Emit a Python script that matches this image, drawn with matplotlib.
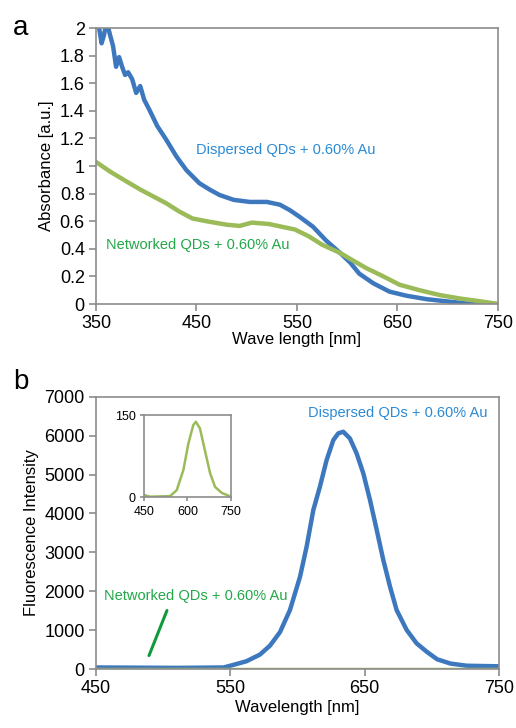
import matplotlib.pyplot as plt

plt.rcParams['font.family'] = ['Liberation Sans', 'DejaVu Sans']

# Panel a: absorbance spectra
abs_disp_nm = [352, 355.6, 358, 360.6, 364, 367, 370, 373, 376, 379, 382, 386, 390, 394, 398,
               403, 411, 420, 430, 440, 453, 463, 473, 487, 503, 520, 533, 543, 553, 566,
               579, 593, 603, 612, 626, 642, 659, 679, 702, 725, 750]
abs_disp = [2.05, 1.89, 1.95, 2.05, 1.95, 1.87, 1.72, 1.79, 1.72, 1.66, 1.68, 1.63, 1.53, 1.58, 1.48,
            1.41, 1.29, 1.19, 1.07, 0.97, 0.875, 0.83, 0.79, 0.755, 0.74, 0.74, 0.72, 0.68, 0.63, 0.56,
            0.46, 0.37, 0.30, 0.22, 0.15, 0.09, 0.06, 0.035, 0.017, 0.0, 0.0]
abs_net_nm = [350, 364, 380, 394, 407, 420, 433, 446, 460, 480, 493, 505, 522, 535, 548,
              562, 575, 593, 607, 619, 636, 652, 672, 692, 712, 735, 750]
abs_net = [1.03, 0.96, 0.89, 0.83, 0.78, 0.73, 0.67, 0.62, 0.60, 0.575, 0.566, 0.59, 0.58, 0.56, 0.54,
           0.49, 0.43, 0.37, 0.31, 0.26, 0.20, 0.14, 0.10, 0.065, 0.04, 0.017, 0.0]

# Panel b: fluorescence spectra
fl_disp_nm = [450, 480, 510, 545, 550, 562, 572, 579.5, 587, 594.4, 601.9, 606.8, 611.8, 616.7,
              621.7, 626.7, 630.4, 634.1, 639, 644, 649, 654, 659, 663.9, 668.9, 673.8, 681.3,
              688.7, 696.2, 704, 714, 726, 750]
fl_disp = [40, 35, 30, 40, 85, 200, 370, 600, 950, 1517, 2373, 3144, 4088, 4687,
           5373, 5887, 6060, 6100, 5930, 5546, 5031, 4345, 3574, 2802, 2117, 1517, 1003,
           660, 445, 250, 140, 85, 70]
fl_net_nm = [450, 750]
fl_net = [0, 0]

# Inset: networked fluorescence
ins_nm = [450, 471, 540, 563, 586, 603, 620, 629, 643, 660, 678, 695, 718, 750]
ins_val = [4, 1, 2, 13, 50, 98, 132, 138, 126, 86, 44, 19, 8, 1]

blue = '#3D78BF'
green = '#9BBB59'
blue_txt = '#2A8AD6'
green_txt = '#22A848'
spine = '#8C8C8C'


def style(ax, fs=13):
    for s in ax.spines.values():
        s.set_color(spine)
        s.set_linewidth(1.2)
    ax.tick_params(direction='out', length=5, width=1.2, color=spine, labelsize=fs, pad=3)


fig = plt.figure(figsize=(5.16, 7.28), dpi=100)

ax1 = fig.add_axes([0.186, 0.5824, 0.779, 0.379])
ax1.plot(abs_disp_nm, abs_disp, color=blue, lw=3.2, solid_joinstyle='round')
ax1.plot(abs_net_nm, abs_net, color=green, lw=3.2, solid_joinstyle='round')
ax1.set_xlim(350, 750)
ax1.set_ylim(0, 2)
ax1.set_xticks([350, 450, 550, 650, 750])
ax1.set_yticks([0, 0.2, 0.4, 0.6, 0.8, 1, 1.2, 1.4, 1.6, 1.8, 2])
ax1.set_yticklabels(['0', '0.2', '0.4', '0.6', '0.8', '1', '1.2', '1.4', '1.6', '1.8', '2'])
style(ax1)
ax1.set_xlabel('Wave length [nm]', fontsize=12, labelpad=0)
ax1.set_ylabel('Absorbance [a.u.]', fontsize=12, labelpad=4)
ax1.text(450, 1.12, 'Dispersed QDs + 0.60% Au', color=blue_txt, fontsize=10.5, va='center')
ax1.text(360, 0.43, 'Networked QDs + 0.60% Au', color=green_txt, fontsize=10.5, va='center')
fig.text(0.025, 0.962, 'a', fontsize=20, va='center')

ax2 = fig.add_axes([0.186, 0.081, 0.781, 0.374])
ax2.plot(fl_disp_nm, fl_disp, color=blue, lw=3.2, solid_joinstyle='round')
ax2.plot(fl_net_nm, fl_net, color=green, lw=2.5)
ax2.set_xlim(450, 750)
ax2.set_ylim(0, 7000)
ax2.set_xticks([450, 550, 650, 750])
ax2.set_yticks(range(0, 7001, 1000))
style(ax2)
ax2.set_xlabel('Wavelength [nm]', fontsize=12, labelpad=2)
ax2.set_ylabel('Fluorescence Intensity', fontsize=12, labelpad=4)
ax2.text(608, 6580, 'Dispersed QDs + 0.60% Au', color=blue_txt, fontsize=10.5, va='center')
ax2.text(456, 1880, 'Networked QDs + 0.60% Au', color=green_txt, fontsize=10.5, va='center')
ax2.annotate('', xy=(488.7, 280), xytext=(503.6, 1570),
             arrowprops=dict(arrowstyle='-', color='#109A3C', lw=2.2))
fig.text(0.025, 0.475, 'b', fontsize=20, va='center')

ax3 = fig.add_axes([0.279, 0.317, 0.1686, 0.1126])
ax3.plot(ins_nm, ins_val, color=green, lw=1.8)
ax3.set_xlim(450, 750)
ax3.set_ylim(0, 150)
ax3.set_xticks([450, 600, 750])
ax3.set_yticks([0, 150])
style(ax3, fs=9)
ax3.tick_params(length=3)

fig.savefig('out.png', dpi=100)
